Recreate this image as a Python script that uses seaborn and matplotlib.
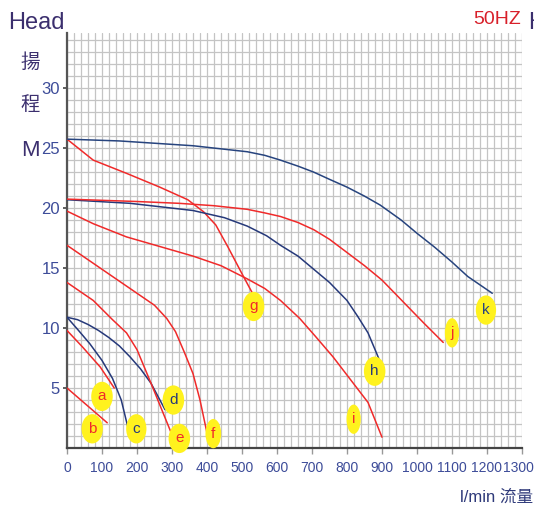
import matplotlib
matplotlib.use("Agg")
import matplotlib.pyplot as plt
import matplotlib.transforms as mtransforms
import numpy as np
import pandas as pd
import seaborn as sns
from matplotlib.ticker import MultipleLocator

# pump curves (flow l/min, head m)
a_x = [0, 45, 95, 135]
a_y = [9.8, 8.4, 6.75, 5.0]
b_x = [0, 115]
b_y = [5.0, 2.1]
c_x = [0, 30, 65, 100, 130, 155, 180]
c_y = [10.9, 9.9, 8.7, 7.3, 5.8, 4.0, 1.0]
d_x = [0, 30, 60, 90, 120, 150, 180, 210, 240, 280]
d_y = [10.9, 10.7, 10.3, 9.8, 9.2, 8.5, 7.6, 6.6, 5.4, 3.2]
e_x = [0, 75, 130, 170, 200, 240, 300]
e_y = [13.8, 12.3, 10.7, 9.6, 8.2, 5.4, 1.1]
f_x = [0, 50, 100, 150, 200, 250, 285, 310, 335, 360, 380, 400]
f_y = [16.9, 15.9, 14.9, 13.9, 12.9, 11.9, 10.8, 9.7, 8.0, 6.2, 4.0, 1.25]
g_x = [0, 75, 170, 265, 345, 390, 425, 460, 505, 530]
g_y = [25.75, 24.0, 22.9, 21.75, 20.7, 19.7, 18.6, 16.75, 14.25, 12.9]
h_x = [0, 180, 360, 450, 515, 570, 610, 660, 705, 750, 800, 830, 860, 896]
h_y = [20.7, 20.4, 19.8, 19.2, 18.5, 17.7, 16.9, 16.0, 14.9, 13.8, 12.3, 11.0, 9.6, 7.1]
i_x = [0, 75, 170, 265, 360, 440, 515, 565, 610, 665, 710, 760, 810, 860, 900]
i_y = [19.75, 18.7, 17.6, 16.8, 16.0, 15.2, 14.1, 13.3, 12.3, 10.8, 9.3, 7.6, 5.7, 3.8, 0.9]
j_x = [0, 200, 320, 420, 515, 565, 610, 660, 705, 750, 800, 850, 900, 960, 1020, 1075]
j_y = [20.75, 20.55, 20.4, 20.2, 19.9, 19.6, 19.3, 18.8, 18.2, 17.4, 16.3, 15.2, 14.0, 12.2, 10.4, 8.8]
k_x = [0, 150, 360, 515, 565, 610, 660, 705, 750, 800, 850, 895, 955, 1000, 1050, 1100, 1145, 1180, 1215]
k_y = [25.75, 25.6, 25.2, 24.7, 24.4, 24.0, 23.5, 23.0, 22.4, 21.75, 21.0, 20.25, 19.0, 17.9, 16.75, 15.5, 14.3, 13.6, 12.9]

curve_names = ["a", "b", "c", "d", "e", "f", "g", "h", "i", "j", "k"]
curve_xs = [a_x, b_x, c_x, d_x, e_x, f_x, g_x, h_x, i_x, j_x, k_x]
curve_ys = [a_y, b_y, c_y, d_y, e_y, f_y, g_y, h_y, i_y, j_y, k_y]

# letter tags
tag_x = [100, 72, 198, 304, 321, 418, 533, 879, 819, 1100, 1197]
tag_y = [4.3, 1.6, 1.6, 4.0, 0.8, 1.2, 11.8, 6.4, 2.4, 9.6, 11.5]

RED = "#f02a2a"
NAVY = "#26397a"
curve_colors = {"a": RED, "b": RED, "c": NAVY, "d": NAVY, "e": RED, "f": RED,
                "g": RED, "h": NAVY, "i": RED, "j": RED, "k": "#27447e"}

x_ticks = list(range(0, 1301, 100))
y_ticks = [5, 10, 15, 20, 25, 30]

rows = []
for name, xs, ys in zip(curve_names, curve_xs, curve_ys):
    for x, y in zip(xs, ys):
        rows.append({"curve": name, "flow": x, "head": y})
df = pd.DataFrame(rows)

sns.set_style("white")
NARROW = ["Liberation Sans Narrow", "Liberation Sans", "DejaVu Sans"]
CJK = ["Noto Sans CJK TC", "DejaVu Sans"]
MIXED = ["Liberation Sans", "Noto Sans CJK TC", "DejaVu Sans"]
plt.rcParams["font.family"] = NARROW

fig = plt.figure(figsize=(5.34, 5.07), dpi=100)
ax = fig.add_axes([67 / 534, 1 - 448 / 507, (522 - 67) / 534, (448 - 33) / 507])

sns.lineplot(data=df, x="flow", y="head", hue="curve", palette=curve_colors,
             units="curve", estimator=None, sort=False, legend=False,
             linewidth=1.1, ax=ax, zorder=3)

ax.set_xlim(0, 1300)
ax.set_ylim(0, 34.6)
ax.set_xticks(x_ticks)
ax.set_yticks(y_ticks)
ax.xaxis.set_minor_locator(MultipleLocator(20))
ax.yaxis.set_minor_locator(MultipleLocator(1))
ax.grid(which="both", color="#c4c4c4", linewidth=0.9, zorder=0)
ax.set_axisbelow(True)
ax.set_xlabel("")
ax.set_ylabel("")

for s in ["top", "right"]:
    ax.spines[s].set_visible(False)
ax.spines["left"].set_color("#555555")
ax.spines["left"].set_linewidth(1.6)
ax.spines["bottom"].set_color("#444444")
ax.spines["bottom"].set_linewidth(1.6)

ax.tick_params(axis="x", which="major", length=4, width=1, color="#999999",
               labelsize=10, labelcolor="#3d4c99", pad=5, direction="out", bottom=True)
ax.tick_params(axis="y", which="major", length=3, width=1.2, color="#444444",
               labelsize=12, labelcolor="#3d4c99", pad=2, direction="out", left=True)
ax.tick_params(which="minor", length=0)

# last x label sits a bit left in the reference so it stays inside the frame
last = ax.get_xticklabels()[-1]
last.set_transform(last.get_transform() +
                   mtransforms.ScaledTranslation(-0.04, 0, fig.dpi_scale_trans))

for name, tx, ty in zip(curve_names, tag_x, tag_y):
    ax.text(tx, ty, name, color=curve_colors[name], fontsize=11,
            ha="center", va="center", family=NARROW, zorder=5,
            bbox=dict(boxstyle="ellipse,pad=0.22", fc="#fff21e", ec="none"))

PURPLE = "#3b2f6e"
fig.text(8 / 534, 1 - 23 / 507, "Head", color=PURPLE, fontsize=17,
         ha="left", va="center", family=NARROW)
fig.text(528 / 534, 1 - 23 / 507, "H", color=PURPLE, fontsize=17,
         ha="left", va="center", family=NARROW)
fig.text(30 / 534, 1 - 62 / 507, "揚", color=PURPLE, fontsize=14,
         ha="center", va="center", family=CJK)
fig.text(30 / 534, 1 - 105 / 507, "程", color=PURPLE, fontsize=14,
         ha="center", va="center", family=CJK)
fig.text(30 / 534, 1 - 150 / 507, "M", color=PURPLE, fontsize=16,
         ha="center", va="center", family=NARROW)
fig.text(521 / 534, 1 - 19 / 507, "50HZ", color="#d8202a", fontsize=14,
         ha="right", va="center", family=NARROW)
fig.text(533 / 534, 1 - 497 / 507, "l/min 流量", color="#2f3a7a", fontsize=12,
         ha="right", va="center", family=MIXED)

fig.savefig("out.png", dpi=100)
